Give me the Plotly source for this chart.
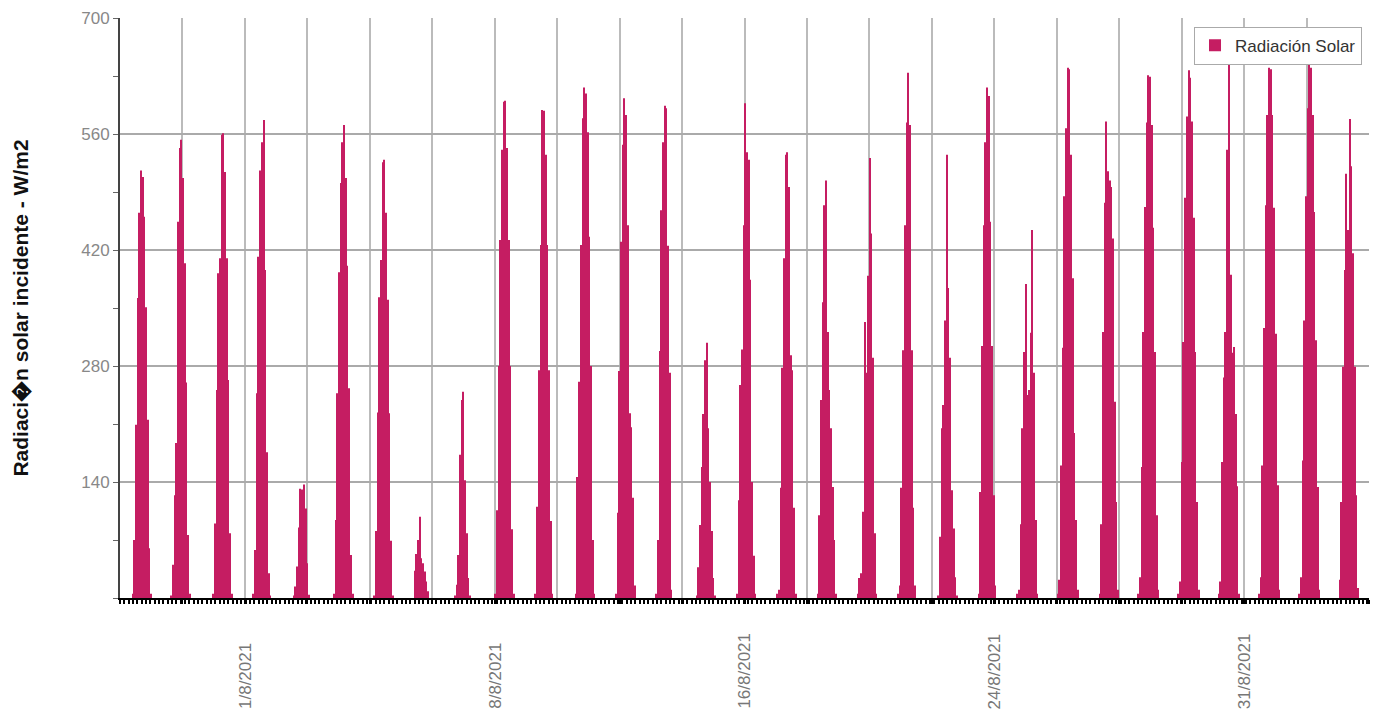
import plotly.graph_objects as go

# Hourly solar radiation (W/m2); each day lists the hours 06:00 .. 18:00,
# the remaining hours of the day are zero (night).
HOURS = list(range(6, 19))

day01 = [0, 5, 70, 209, 362, 465, 516, 508, 460, 351, 215, 60, 5]
day02 = [3, 40, 124, 187, 454, 543, 553, 507, 404, 260, 76, 5, 0]
day03 = [0, 5, 90, 251, 392, 410, 559, 561, 514, 410, 263, 78, 5]
day04 = [0, 5, 58, 247, 412, 516, 550, 577, 396, 176, 30, 3, 0]
day05 = [0, 3, 14, 38, 85, 132, 131, 137, 108, 42, 4, 0, 0]
day06 = [0, 5, 94, 247, 393, 501, 550, 571, 507, 401, 253, 52, 5]
day07 = [0, 3, 81, 224, 363, 408, 526, 529, 465, 360, 223, 69, 3]
day08 = [0, 33, 53, 70, 98, 48, 42, 32, 20, 8, 0, 0, 0]
day09 = [0, 3, 16, 52, 173, 239, 249, 142, 78, 24, 3, 0, 0]
day10 = [0, 5, 106, 280, 432, 541, 599, 600, 543, 432, 280, 83, 5]
day11 = [0, 5, 110, 275, 426, 589, 588, 535, 426, 275, 93, 5, 0]
day12 = [0, 5, 146, 261, 426, 579, 616, 609, 562, 436, 280, 70, 5]
day13 = [0, 5, 103, 274, 430, 547, 603, 583, 450, 223, 206, 121, 15]
day14 = [0, 5, 70, 298, 468, 550, 594, 591, 425, 272, 10, 0, 0]
day15 = [0, 3, 37, 88, 158, 222, 287, 308, 205, 140, 81, 24, 3]
day16 = [0, 5, 118, 257, 300, 450, 597, 538, 529, 384, 140, 51, 5]
day17 = [0, 5, 10, 133, 278, 410, 535, 538, 496, 293, 275, 109, 5]
day18 = [0, 5, 100, 239, 357, 474, 504, 321, 251, 205, 134, 70, 5]
day19 = [0, 5, 24, 30, 104, 333, 272, 389, 531, 440, 290, 78, 5]
day20 = [0, 5, 15, 133, 299, 450, 574, 634, 571, 299, 109, 15, 0]
day21 = [0, 3, 74, 205, 233, 335, 535, 374, 290, 130, 84, 25, 3]
day22 = [0, 5, 128, 304, 450, 550, 616, 606, 454, 304, 124, 15, 0]
day23 = [5, 10, 89, 205, 297, 379, 245, 251, 320, 444, 272, 94, 5]
day24 = [5, 22, 160, 302, 485, 567, 640, 638, 535, 386, 199, 94, 10]
day25 = [0, 5, 89, 321, 477, 575, 515, 504, 496, 434, 237, 116, 10]
day26 = [5, 25, 158, 321, 472, 574, 631, 629, 571, 447, 297, 100, 10]
day27 = [5, 20, 164, 309, 483, 581, 637, 628, 575, 459, 297, 116, 10]
day28 = [5, 20, 164, 266, 321, 541, 655, 390, 296, 303, 222, 135, 5]
day29 = [5, 25, 160, 326, 474, 583, 640, 638, 583, 471, 319, 136, 10]
day30 = [5, 25, 166, 335, 485, 591, 647, 640, 583, 466, 311, 134, 10]
day31 = [22, 116, 279, 396, 512, 444, 578, 521, 416, 279, 124, 12, 0]

DAYS = [day01, day02, day03, day04, day05, day06, day07, day08, day09, day10,
        day11, day12, day13, day14, day15, day16, day17, day18, day19, day20,
        day21, day22, day23, day24, day25, day26, day27, day28, day29, day30,
        day31]

X_TICK_LABELS = ["1/8/2021", "8/8/2021", "16/8/2021", "24/8/2021", "31/8/2021"]
LABEL_GRID_INDEX = [2, 6, 10, 14, 18]
N_GRID = 20
Y_TICKS = [140, 280, 420, 560, 700]
SERIES_NAME = "Radiación Solar"
Y_TITLE = "Radiaci\ufffdn solar incidente - W/m2"

x, y = [], []
for d, vals in enumerate(DAYS):
    for h in range(24):
        x.append(d * 24 + h)
        y.append(vals[h - HOURS[0]] if h in HOURS else 0)

n = len(x)
step = n / N_GRID
tickvals = [-0.5 + k * step for k in range(1, N_GRID + 1)]

BAR_COLOR = "#C51D62"
FONT = "Arial, Liberation Sans, sans-serif"

fig = go.Figure(go.Bar(
    x=x, y=y, name=SERIES_NAME, marker=dict(color=BAR_COLOR, line=dict(width=0)),
    showlegend=True,
))

# date labels, written bottom-to-top and aligned at their start (bottom)
for lab, k in zip(X_TICK_LABELS, LABEL_GRID_INDEX):
    fig.add_annotation(
        x=tickvals[k - 1], xref="x", y=-0.195, yref="paper",
        xanchor="center", yanchor="bottom", textangle=-90,
        text=lab, showarrow=False,
        font=dict(family=FONT, size=17, color="#777"),
    )

fig.update_layout(
    width=1379, height=722,
    margin=dict(l=120, r=10, t=18, b=124),
    paper_bgcolor="white", plot_bgcolor="white",
    bargap=0.4,
    font=dict(family=FONT, color="#777"),
    legend=dict(x=0.9944, y=0.985, xanchor="right", yanchor="top",
                bgcolor="white", bordercolor="#aaaaaa", borderwidth=1,
                itemwidth=30, tracegroupgap=0,
                font=dict(size=17, color="#333")),
)

fig.update_xaxes(
    range=[-0.5, n - 0.5], automargin=False,
    tickmode="array", tickvals=tickvals, showticklabels=False,
    showgrid=True, gridcolor="#bbbbbb", gridwidth=2,
    showline=True, linecolor="black", linewidth=2,
    ticks="outside", ticklen=4, tickwidth=2, tickcolor="black",
    minor=dict(tickmode="linear", tick0=-0.5, dtick=2.58, ticks="outside",
               ticklen=4, tickwidth=2, tickcolor="black", showgrid=False),
    zeroline=False,
)

fig.update_yaxes(
    range=[0, 700], automargin=False,
    tickmode="array", tickvals=Y_TICKS,
    tickfont=dict(size=17, color="#888"),
    showgrid=True, gridcolor="#aaaaaa", gridwidth=2,
    showline=True, linecolor="#444", linewidth=2,
    ticks="outside", ticklen=5, tickwidth=1, tickcolor="#666",
    minor=dict(tickmode="linear", tick0=0, dtick=70, ticks="outside",
               ticklen=5, tickwidth=1, tickcolor="#666", showgrid=False),
    zeroline=False,
    title=dict(text=Y_TITLE, font=dict(size=21, color="#111", weight="bold"),
               standoff=47),
)

fig.write_html("out.html", config={"displayModeBar": False},
               post_script="document.body.style.margin='0';")
